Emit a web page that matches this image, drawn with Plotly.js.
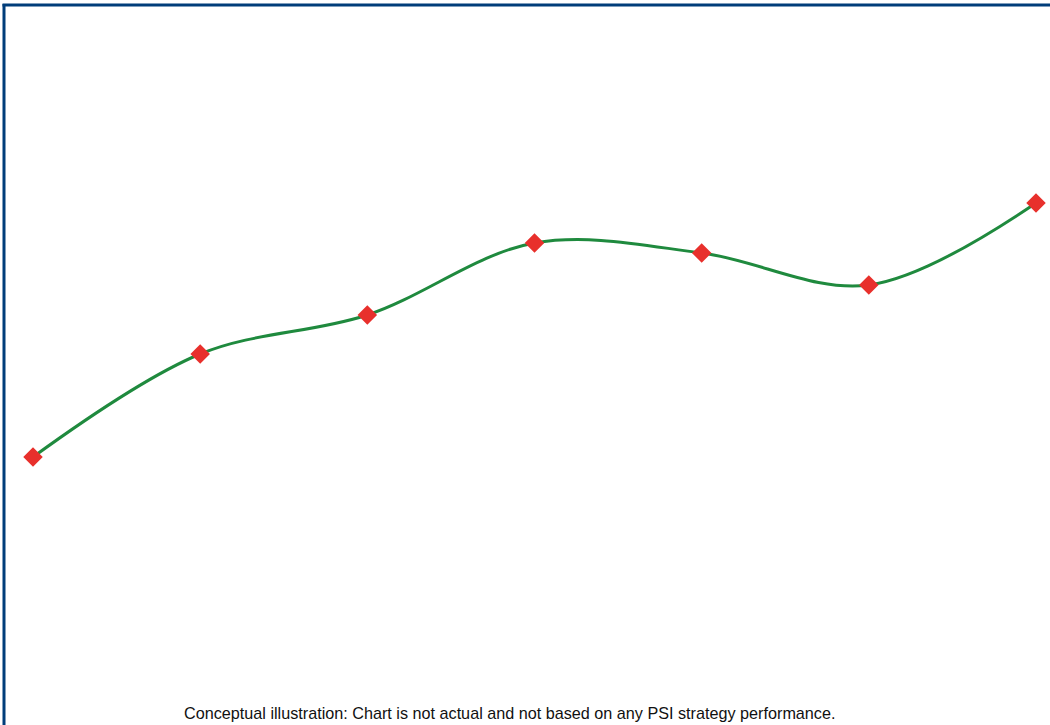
<!DOCTYPE html>
<html>
<head>
<meta charset="utf-8">
<script src="https://cdn.plot.ly/plotly-3.0.1.min.js"></script>
<style>html,body{margin:0;padding:0;background:#fff;}#chart{width:1050px;height:725px;}</style>
</head>
<body>
<div id="chart"></div>
<script>
const periods = [1, 2, 3, 4, 5, 6, 7];
const values = [268, 371, 410, 482, 472, 440, 522];
const caption = "Conceptual illustration: Chart is not actual and not based on any PSI strategy performance.";

const trace = {
  x: periods,
  y: values,
  type: 'scatter',
  mode: 'lines+markers',
  line: {shape: 'spline', smoothing: 1, color: '#1f8a3e', width: 3},
  marker: {symbol: 'diamond', size: 15, color: '#e8302c'},
  hoverinfo: 'none'
};

const layout = {
  width: 1050, height: 725,
  margin: {l: 0, r: 0, t: 0, b: 0},
  paper_bgcolor: '#ffffff', plot_bgcolor: '#ffffff',
  showlegend: false,
  xaxis: {range: [0.8026, 7.0837], visible: false, fixedrange: true},
  yaxis: {range: [0, 725], visible: false, fixedrange: true},
  shapes: [
    {type: 'line', xref: 'paper', yref: 'paper', x0: 4/1050, x1: 4/1050, y0: 0, y1: 1 - 4/725, line: {color: '#003d7a', width: 3}},
    {type: 'line', xref: 'paper', yref: 'paper', x0: 2.5/1050, x1: 1, y0: 1 - 5/725, y1: 1 - 5/725, line: {color: '#003d7a', width: 3}}
  ],
  annotations: [{
    text: caption, xref: 'paper', yref: 'paper', x: 509.5/1050, y: 1 - 713/725,
    xanchor: 'center', yanchor: 'middle', showarrow: false,
    font: {family: 'Liberation Sans, Arial, sans-serif', size: 16.2, color: '#111111'}
  }]
};

Plotly.newPlot('chart', [trace], layout, {displayModeBar: false, staticPlot: true});
</script>
</body>
</html>
